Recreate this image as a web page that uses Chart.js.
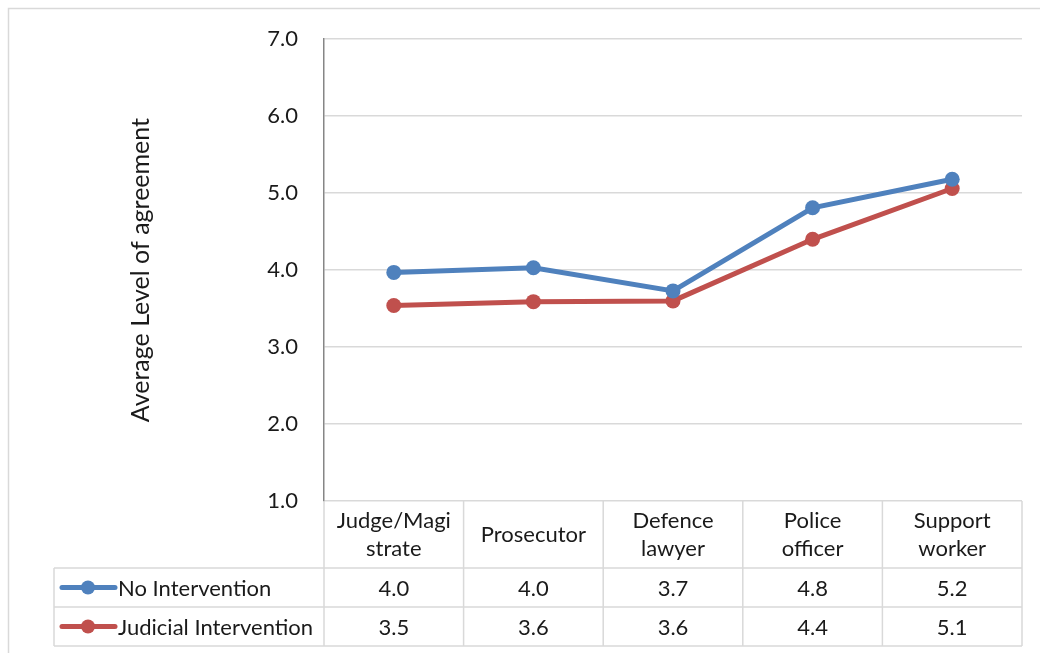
<!DOCTYPE html>
<html>
<head>
<meta charset="utf-8">
<script src="https://cdn.jsdelivr.net/npm/chart.js@4"></script>
<style>
  html, body { margin: 0; padding: 0; background: #fff; }
  #wrap { width: 1040px; height: 653px; }
</style>
</head>
<body>
<div id="wrap"><canvas id="chart" width="1040" height="653"></canvas></div>
<script>
const categories = [['Judge/Magi', 'strate'], 'Prosecutor', ['Defence', 'lawyer'], ['Police', 'officer'], ['Support', 'worker']];
const noIntervention = [3.97, 4.03, 3.73, 4.81, 5.18];
const judicialIntervention = [3.54, 3.59, 3.60, 4.40, 5.06];
const seriesNames = ['No Intervention', 'Judicial Intervention'];
const yTicks = [1, 2, 3, 4, 5, 6, 7];

const FONT = 'Lato, "Liberation Sans", sans-serif';
const GRID = '#d9d9d9';
const TEXT = '#1a1a1a';

// draws the outer frame and the data table under the x axis
const dataTable = {
  id: 'dataTable',
  beforeDraw(chart) {
    const ctx = chart.ctx;
    ctx.save();
    ctx.strokeStyle = GRID;
    ctx.lineWidth = 1.5;
    ctx.strokeRect(8.5, 8.5, 1100, 800);
    ctx.restore();
  },
  afterDraw(chart, args, opts) {
    const ctx = chart.ctx;
    const x = chart.scales.x;
    const area = chart.chartArea;
    const half = (x.getPixelForValue(1) - x.getPixelForValue(0)) / 2;
    const bounds = categories.map((c, i) => x.getPixelForValue(i) - half);
    bounds.push(x.getPixelForValue(categories.length - 1) + half);
    const rowH = opts.rowHeight;
    const top = x.bottom;
    const bottom = top + rowH * chart.data.datasets.length;
    const left = opts.left;

    ctx.save();
    ctx.strokeStyle = GRID;
    ctx.lineWidth = 1.5;
    ctx.beginPath();
    bounds.forEach(b => { ctx.moveTo(b, area.bottom); ctx.lineTo(b, bottom); });
    ctx.moveTo(left, top); ctx.lineTo(left, bottom);
    for (let r = 0; r <= chart.data.datasets.length; r++) {
      ctx.moveTo(left, top + r * rowH);
      ctx.lineTo(bounds[bounds.length - 1], top + r * rowH);
    }
    ctx.stroke();

    ctx.font = '22px ' + FONT;
    ctx.textBaseline = 'middle';
    chart.data.datasets.forEach((ds, r) => {
      const cy = top + r * rowH + rowH / 2;
      // legend key
      ctx.strokeStyle = ds.borderColor;
      ctx.lineWidth = 5;
      ctx.lineCap = 'round';
      ctx.beginPath();
      ctx.moveTo(left + 8, cy); ctx.lineTo(left + 61, cy);
      ctx.stroke();
      ctx.fillStyle = ds.backgroundColor;
      ctx.beginPath();
      ctx.arc(left + 34, cy, 7, 0, Math.PI * 2);
      ctx.fill();
      ctx.fillStyle = TEXT;
      ctx.textAlign = 'left';
      ctx.fillText(ds.label, left + 64, cy + 1);
      ctx.textAlign = 'center';
      ds.data.forEach((v, i) => {
        ctx.fillText(v.toFixed(1), x.getPixelForValue(i), cy + 1);
      });
    });
    ctx.restore();
  }
};

new Chart(document.getElementById('chart'), {
  type: 'line',
  data: {
    labels: categories,
    datasets: [
      { label: seriesNames[0], data: noIntervention, borderColor: '#4f81bd', backgroundColor: '#4f81bd', borderWidth: 5, pointRadius: 7.5, pointBorderWidth: 0, tension: 0 },
      { label: seriesNames[1], data: judicialIntervention, borderColor: '#c0504d', backgroundColor: '#c0504d', borderWidth: 5, pointRadius: 7.5, pointBorderWidth: 0, tension: 0 }
    ]
  },
  options: {
    responsive: false,
    animation: false,
    layout: { padding: { left: 126, top: 38, right: 18, bottom: 85 } },
    plugins: {
      legend: { display: false },
      tooltip: { enabled: false },
      dataTable: { rowHeight: 39, left: 54 }
    },
    scales: {
      x: {
        offset: true,
        grid: { display: false },
        border: { display: false },
        ticks: { color: TEXT, font: { family: FONT, size: 22, lineHeight: 1.27 }, padding: 12, maxRotation: 0, autoSkip: false, crossAlign: 'center' },
        afterFit(scale) { scale.height = 67; }
      },
      y: {
        min: 1, max: 7,
        afterBuildTicks(scale) { scale.ticks = yTicks.map(v => ({ value: v })); },
        grid: { color: GRID, lineWidth: 1.5, drawTicks: false },
        border: { display: true, color: '#868686', width: 1.5 },
        ticks: { color: TEXT, font: { family: FONT, size: 22 }, padding: 26, callback: v => v.toFixed(1) },
        title: { display: true, text: 'Average Level of agreement', color: TEXT, font: { family: FONT, size: 25 }, padding: 0 },
        afterFit(scale) { scale.width = 198; }
      }
    }
  },
  plugins: [dataTable]
});
</script>
</body>
</html>
